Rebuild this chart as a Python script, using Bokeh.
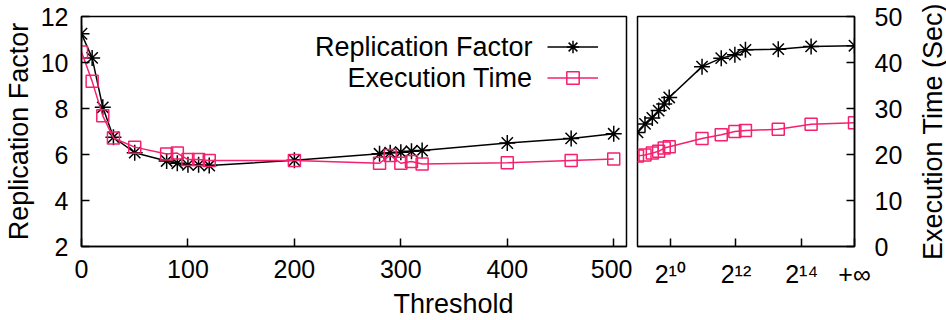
import math
from bokeh.plotting import figure
from bokeh.models import Range1d, LinearAxis, FixedTicker, Legend, LegendItem, Label
from bokeh.layouts import row, column
from bokeh.embed import file_html
from bokeh.resources import INLINE

# ---------------- data ----------------
left_threshold = [0, 10, 20, 30, 50, 80, 90, 100, 110, 120, 200, 280, 290, 300, 310, 320, 400, 460, 500]
left_replication = [11.25, 10.2, 8.05, 6.75, 6.08, 5.72, 5.62, 5.55, 5.55, 5.52, 5.75, 6.03, 6.08, 6.1, 6.14, 6.17, 6.5, 6.7, 6.9]
left_exec_time = [42.3, 35.9, 28.4, 23.6, 21.6, 20.1, 20.3, 18.9, 18.9, 18.7, 18.7, 18.1, 19.8, 18.1, 18.5, 17.95, 18.2, 18.7, 19.0]

INF_STANDIN = 50000  # threshold value used to place "+inf"
right_threshold = [512, 600, 700, 800, 900, 1000, 2000, 3000, 4000, 5000, 10000, 20000, INF_STANDIN]
right_replication = [6.96, 7.33, 7.59, 7.91, 8.2, 8.48, 9.82, 10.19, 10.34, 10.55, 10.58, 10.7, 10.73]
right_exec_time = [19.7, 19.9, 20.3, 20.7, 21.4, 21.7, 23.5, 24.3, 25.0, 25.2, 25.5, 26.6, 26.9]

left_x_ticks = [0, 100, 200, 300, 400, 500]
right_x_ticks = [1024, 4096, 16384, INF_STANDIN]
right_x_tick_labels = ["2\u00b9\u2070", "2\u00b9\u00b2", "2\u00b9\u2074", "+\u221e"]
rf_ticks = [2, 4, 6, 8, 10, 12]
time_ticks = [0, 10, 20, 30, 40, 50]

series_names = ["Replication Factor", "Execution Time"]
x_label = "Threshold"
y_label_left = "Replication Factor"
y_label_right = "Execution Time (Sec)"

# ---------------- style ----------------
PINK = "#f5206e"
FONT = "Liberation Sans"
TICK_SIZE = "25px"
LABEL_SIZE = "27px"
TOP, BOTTOM = 16, 44
PLOT_H = 290
TITLE_W = 40


def style_axis(ax):
    ax.major_tick_in = 8
    ax.major_tick_out = 0
    ax.minor_tick_line_color = None
    ax.axis_line_color = "black"
    ax.axis_line_width = 1.5
    ax.major_tick_line_color = "black"
    ax.major_tick_line_width = 1.5
    ax.major_label_text_font = FONT
    ax.major_label_text_font_size = TICK_SIZE
    ax.major_label_text_color = "black"
    ax.axis_label_text_font = FONT
    ax.axis_label_text_font_size = LABEL_SIZE
    ax.axis_label_text_font_style = "normal"
    ax.axis_label_text_color = "black"


def blank_fig(w, h):
    f = figure(width=w, height=h, output_backend="svg", toolbar_location=None,
               x_axis_location=None, y_axis_location=None,
               min_border_left=0, min_border_right=0, min_border_top=0, min_border_bottom=0,
               x_range=Range1d(0, 1), y_range=Range1d(0, 1))
    f.grid.visible = False
    f.outline_line_color = None
    f.background_fill_color = None
    f.border_fill_color = "white"
    return f


rf_range = Range1d(2, 12)
time_range = Range1d(0, 50)

# ---------------- left panel ----------------
p1 = figure(width=632, height=PLOT_H, x_range=Range1d(0, 512), y_range=rf_range,
            output_backend="svg", toolbar_location=None,
            min_border_left=79, min_border_right=6, min_border_top=TOP, min_border_bottom=BOTTOM)
p1.extra_y_ranges = {"time": time_range}
p1.grid.visible = False
p1.outline_line_color = "black"
p1.outline_line_width = 1.5
p1.background_fill_color = None
p1.border_fill_color = "white"

for ax in p1.xaxis:
    style_axis(ax)
    ax.ticker = FixedTicker(ticks=left_x_ticks)
    ax.major_label_standoff = 13
for ax in p1.yaxis:
    style_axis(ax)
    ax.ticker = FixedTicker(ticks=rf_ticks)
    ax.major_label_standoff = 13
    ax.axis_label = y_label_left
    ax.axis_label_standoff = 4

rf_line1 = p1.line(left_threshold, left_replication, line_color="black", line_width=1.5)
rf_pts1 = p1.scatter(left_threshold, left_replication, marker="asterisk", size=16,
                     line_color="black", line_width=1.5)
t_line1 = p1.line(left_threshold, left_exec_time, y_range_name="time", line_color=PINK, line_width=1.5)
t_pts1 = p1.scatter(left_threshold, left_exec_time, y_range_name="time", marker="square", size=12,
                    fill_color=None, line_color=PINK, line_width=1.5)

legend = Legend(items=[LegendItem(label=" ", renderers=[rf_line1, rf_pts1]),
                       LegendItem(label=" ", renderers=[t_line1, t_pts1])],
                location=(466, 153), orientation="vertical", glyph_width=51, glyph_height=31,
                label_width=0, label_height=0, label_standoff=0, padding=0, margin=0, spacing=0,
                border_line_color=None, background_fill_alpha=0, label_text_font_size="8px")
p1.add_layout(legend)

p1.add_layout(Label(x=451, y=199.3, x_units="screen", y_units="screen", text=series_names[0],
                    text_align="right", text_baseline="middle", text_font=FONT,
                    text_font_size=LABEL_SIZE, text_color="black"))
p1.add_layout(Label(x=451, y=168.7, x_units="screen", y_units="screen", text=series_names[1],
                    text_align="right", text_baseline="middle", text_font=FONT,
                    text_font_size=LABEL_SIZE, text_color="black"))

# ---------------- right panel ----------------
p2 = figure(width=314 - TITLE_W, height=PLOT_H, x_axis_type="log", x_range=Range1d(512, INF_STANDIN),
            y_range=rf_range, y_axis_location=None, output_backend="svg", toolbar_location=None,
            min_border_left=5, min_border_right=92 - TITLE_W, min_border_top=TOP, min_border_bottom=BOTTOM)
p2.extra_y_ranges = {"time": time_range}
p2.grid.visible = False
p2.outline_line_color = "black"
p2.outline_line_width = 1.5
p2.background_fill_color = None
p2.border_fill_color = "white"

for ax in p2.xaxis:
    style_axis(ax)
    ax.ticker = FixedTicker(ticks=right_x_ticks, minor_ticks=[])
    ax.major_label_overrides = dict(zip(right_x_ticks, right_x_tick_labels))
    ax.major_label_standoff = 13

raxis = LinearAxis(y_range_name="time", ticker=FixedTicker(ticks=time_ticks))
style_axis(raxis)
raxis.major_label_standoff = 20
p2.add_layout(raxis, "right")

p2.line(right_threshold, right_replication, line_color="black", line_width=1.5)
p2.scatter(right_threshold, right_replication, marker="asterisk", size=16, line_color="black", line_width=1.5)
p2.line(right_threshold, right_exec_time, y_range_name="time", line_color=PINK, line_width=1.5)
p2.scatter(right_threshold, right_exec_time, y_range_name="time", marker="square", size=12,
           fill_color=None, line_color=PINK, line_width=1.5)

# ---------------- shared x-axis title ----------------
p4 = blank_fig(946 - TITLE_W, 320 - PLOT_H)
p4.add_layout(Label(x=453, y=17, x_units="screen", y_units="screen", text=x_label,
                    text_align="center", text_baseline="middle", text_font=FONT,
                    text_font_size=LABEL_SIZE, text_color="black"))

# ---------------- right axis title (reads bottom-to-top) ----------------
p3 = blank_fig(TITLE_W, 320)
p3.add_layout(Label(x=26, y=320 - 131, x_units="screen", y_units="screen", text=y_label_right,
                    angle=math.pi / 2, text_align="center", text_baseline="middle", text_font=FONT,
                    text_font_size=LABEL_SIZE, text_color="black"))

layout = row(column(row(p1, p2, spacing=0), p4, spacing=0), p3, spacing=0)
open("out.html", "w").write(file_html(layout, INLINE))
